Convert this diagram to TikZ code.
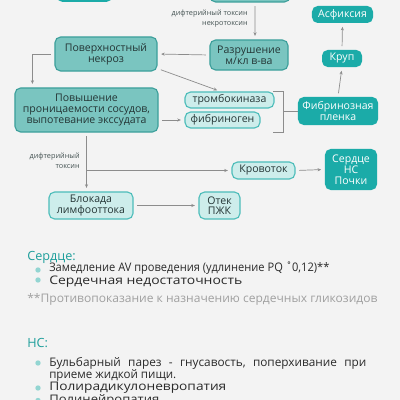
\documentclass[tikz,border=0pt]{standalone}
\usepackage{fontspec}
\usepackage{graphicx}
\setmainfont{Open Sans}
\usetikzlibrary{arrows.meta,calc}
\definecolor{bg}{HTML}{F3F3F3}
\definecolor{midfill}{HTML}{7AC5C0}
\definecolor{midborder}{HTML}{3C9F9B}
\definecolor{lightfill}{HTML}{CDEDEB}
\definecolor{lightborder}{HTML}{4DBDBA}
\definecolor{strong}{HTML}{1BABA8}
\definecolor{txt}{HTML}{243535}
\definecolor{conn}{HTML}{8C8C8C}
\definecolor{head}{HTML}{1E9E9B}
\definecolor{bul}{HTML}{93D5D2}
\definecolor{note}{HTML}{A0A0A0}
\definecolor{body}{HTML}{2A2A2A}
\newcommand\fitw[2]{\resizebox{#1}{\height}{#2}}
\begin{document}
\begin{tikzpicture}[x=0.025cm,y=-0.025cm,
  base/.style={rounded corners=4pt, align=center, inner sep=0pt, text=txt},
  midbox/.style={base, draw=midborder, fill=midfill, line width=0.8pt, font=\fontsize{7.5}{8}\selectfont},
  lightbox/.style={base, draw=lightborder, fill=lightfill, line width=0.8pt, font=\fontsize{7.5}{7.5}\selectfont},
  strongbox/.style={base, fill=strong, text=white, font=\fontsize{7.5}{8}\selectfont},
  conn/.style={draw=conn, line width=0.5pt},
  arr/.style={conn, -{Stealth[length=2.6pt,width=2.2pt]}, shorten >=2.5pt, shorten <=2.5pt},
  lbl/.style={font=\fontsize{5.2}{7}\selectfont, text=txt!85, align=right, inner sep=0pt},
  head/.style={anchor=west, text=head, inner sep=0pt, font=\fontsize{9}{10}\selectfont},
  item/.style={anchor=west, text=body, inner sep=0pt, font=\fontsize{8.4}{8.9}\selectfont},
  bullet/.style={fill=bul},
]
\useasboundingbox (0,0) rectangle (400,400);
\fill[bg] (0,0) rectangle (400,400);
\clip (0,0) rectangle (400,400);

% partial boxes at the top
\node[strongbox, minimum width=1.375cm, minimum height=0.5cm] (topL) at (84.5,-8) {};
\node[midbox, minimum width=2cm, minimum height=0.5cm] (topR) at (250,-8) {};

% nodes
\node[midbox, minimum width=2.55cm, minimum height=0.85cm] (pov) at (106,54) {Поверхностный\\некроз};
\node[midbox, minimum width=1.95cm, minimum height=0.75cm] (raz) at (249,55) {Разрушение\\м/кл в-ва};
\node[midbox, minimum width=3.575cm, minimum height=1.1cm] (povysh) at (86.5,110) {Повышение\\проницаемости сосудов,\\выпотевание экссудата};
\node[lightbox, minimum width=2.225cm, minimum height=0.4cm] (tromb) at (229.5,100) {тромбокиназа};
\node[lightbox, minimum width=1.875cm, minimum height=0.4cm] (fib) at (222.5,120) {фибриноген};
\node[strongbox, minimum width=2cm, minimum height=0.7cm] (plenka) at (338,111) {Фибринозная\\пленка};
\node[strongbox, minimum width=1cm, minimum height=0.425cm] (krup) at (342,58.5) {Круп};
\node[strongbox, minimum width=1.525cm, minimum height=0.425cm] (asf) at (342.5,14.5) {Асфиксия};
\node[lightbox, minimum width=1.575cm, minimum height=0.425cm] (krov) at (263.5,170.5) {Кровоток};
\node[strongbox, minimum width=1.3cm, minimum height=1.025cm, font=\fontsize{7.5}{7.8}\selectfont] (serd) at (351,169.5) {Сердце\\НС\\Почки};
\node[lightbox, minimum width=2.1cm, minimum height=0.675cm, font=\fontsize{7.5}{7.5}\selectfont] (blok) at (91,205.5) {Блокада\\лимфооттока};
\node[lightbox, minimum width=1.025cm, minimum height=0.675cm] (otek) at (219.5,205.5) {Отек\\ПЖК};

% labels
\node[lbl, anchor=east] (lab1) at (248,19) {дифтерийный токсин\\некротоксин};
\node[lbl, anchor=east] (lab2) at (80,161) {дифтерийный\\токсин};

% connectors
\draw[arr] ([xshift=0.125cm]topR.south) -- ([xshift=0.15cm]raz.north);
\draw[arr] (raz.west) -- (pov.east);
\draw[arr] (pov.west) -| ($(povysh.north west)+(18,0)$);
\draw[arr] ($(pov.south east)+(0,-3)$) -- ($(tromb.north)+(-9,0)$);
\draw[arr] (povysh.east |- fib.west) -- (fib.west);
\coordinate (bt) at (283,91);
\coordinate (bb) at (283,132);
\draw[conn] ($(bt)+(-10,0)$) -- (bt) -- (bb) -- ($(bb)+(-10,0)$);
\draw[conn] (bt |- plenka.west) -- (plenka.west);
\draw[arr] (plenka.north) -- (krup.south);
\draw[arr] (krup.north) -- (asf.south);
\draw[arr] (povysh.south) -- (povysh.south |- blok.north);
\draw[arr, shorten <=0pt] (povysh.south |- krov.west) -- (krov.west);
\draw[arr] (krov.east) -- (serd.west);
\draw[arr] (blok.east) -- (otek.west);

% text section
\node[head] (h1) at (27,257) {Сердце:};
\fill[bullet] (38,270) circle (1.9pt);
\fill[bullet] (38,280) circle (1.9pt);
\node[item, align=left, font=\fontsize{8.4}{7.1}\selectfont] (i1) at (49,275) {\fitw{7cm}{Замедление AV проведения (удлинение PQ ˚0,12)**}\\\fitw{4.825cm}{Сердечная недостаточность}};
\node[item, text=note] (fn) at (27,299) {\fitw{8.75cm}{**Противопоказание к назначению сердечных гликозидов}};

\node[head] (h2) at (27,343) {НС:};
\fill[bullet] (38,363) circle (1.9pt);
\node[item] (n1) at (49,363) {\hbox to 7.925cm{Бульбарный\hfill парез\hfill -\hfill гнусавость,\hfill поперхивание\hfill при}};
\node[item] (n1b) at (49,375.5) {\fitw{3.175cm}{приеме жидкой пищи.}};
\fill[bullet] (38,388) circle (1.9pt);
\node[item] (n2) at (49,388) {\fitw{4.425cm}{Полирадикулоневропатия}};
\fill[bullet] (38,400.5) circle (1.9pt);
\node[item] (n3) at (49,400.5) {\fitw{2.75cm}{Полинейропатия}};
\end{tikzpicture}
\end{document}
